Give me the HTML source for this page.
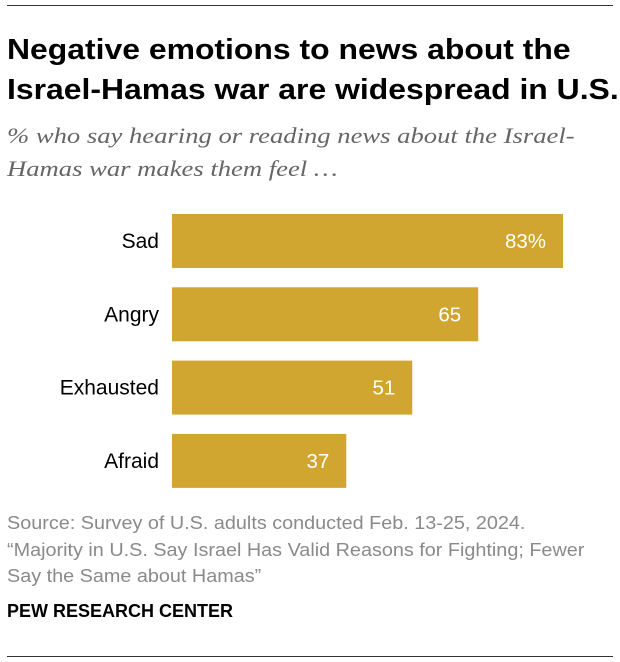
<!DOCTYPE html>
<html><head><meta charset="utf-8"><style>
body{margin:0;width:620px;height:662px;background:#fff;font-family:"Liberation Sans",sans-serif;position:relative;overflow:hidden}
.rule{position:absolute;left:7px;width:606px;height:1px;background:#333}
#title{position:absolute;left:7px;top:30px;font-size:29px;font-weight:bold;line-height:40px;color:#000;transform:scaleX(1.1);transform-origin:left top;white-space:nowrap}
#sub{position:absolute;left:7px;top:119px;font-family:"Liberation Serif",serif;font-style:italic;font-size:22px;line-height:33px;color:#666;transform:scaleX(1.21);transform-origin:left top;white-space:nowrap}
#src{position:absolute;left:7px;top:510px;font-size:18px;line-height:26.5px;color:#8a8a8a;transform:scaleX(1.10);transform-origin:left top;white-space:nowrap}
#pew{position:absolute;left:7px;top:601px;font-size:18px;font-weight:bold;color:#000}
</style></head><body>
<div class="rule" style="top:5px"></div>
<div id="title">Negative emotions to news about the<br>Israel-Hamas war are widespread in U.S.</div>
<div id="sub">% who say hearing or reading news about the Israel-<br>Hamas war makes them feel …</div>
<svg id="chart" width="620" height="662" style="position:absolute;left:0;top:0"></svg>
<div id="src">Source: Survey of U.S. adults conducted Feb. 13-25, 2024.<br>“Majority in U.S. Say Israel Has Valid Reasons for Fighting; Fewer<br>Say the Same about Hamas”</div>
<div id="pew">PEW RESEARCH CENTER</div>
<div class="rule" style="top:656px"></div>
<script>
const categories=["Sad","Angry","Exhausted","Afraid"];
const values=[83,65,51,37];
const valueLabels=["83%","65","51","37"];
const svg=document.getElementById('chart');
const NS='http://www.w3.org/2000/svg';
const x0=172,unit=391/83,y0=214,step=73.3,bh=54;
const xs=v=>v*unit, ys=i=>y0+i*step;
categories.forEach((c,i)=>{
  const r=document.createElementNS(NS,'rect');
  r.setAttribute('x',x0);r.setAttribute('y',ys(i));r.setAttribute('width',xs(values[i]));r.setAttribute('height',bh);r.setAttribute('fill','#d1a630');
  
  
  svg.appendChild(r);
  const l=document.createElementNS(NS,'text');
  l.setAttribute('x',159);l.setAttribute('y',ys(i)+bh/2+7);l.setAttribute('text-anchor','end');l.setAttribute('font-size','21');l.setAttribute('fill','#000');l.setAttribute('font-family','Liberation Sans, sans-serif');
  l.textContent=c;
  
  
  svg.appendChild(l);
  const v=document.createElementNS(NS,'text');
  v.setAttribute('x',x0+xs(values[i])-17);v.setAttribute('y',ys(i)+bh/2+7);v.setAttribute('text-anchor','end');v.setAttribute('font-size','20.5');v.setAttribute('fill','#fff');v.setAttribute('font-family','Liberation Sans, sans-serif');
  v.textContent=valueLabels[i];
  
  
  svg.appendChild(v);
});
</script>
</body></html>
